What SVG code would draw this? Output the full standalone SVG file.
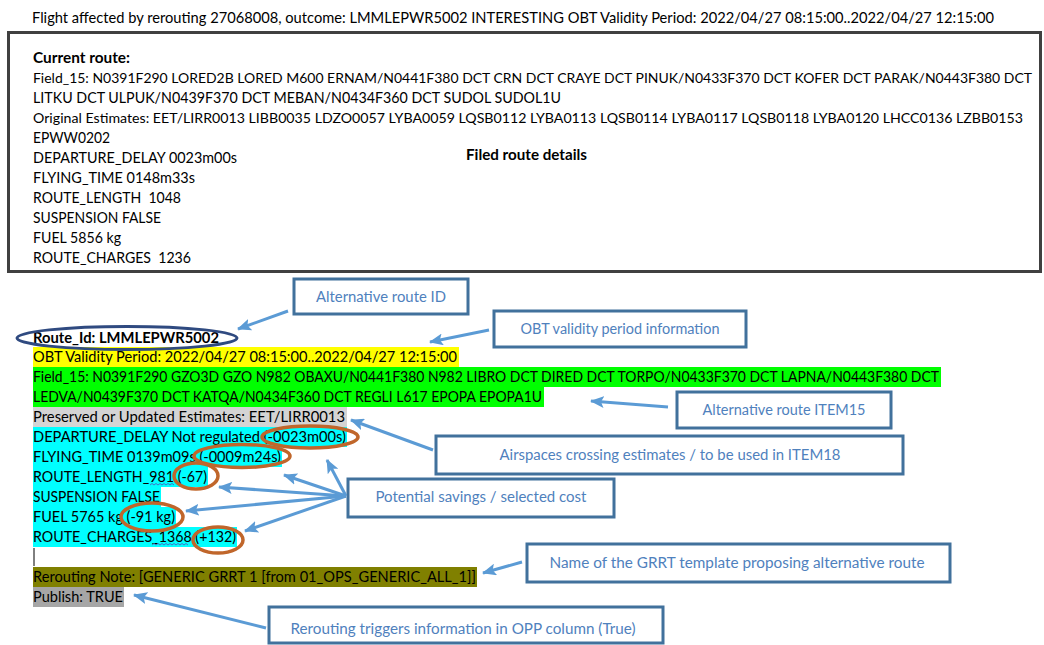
<svg xmlns="http://www.w3.org/2000/svg" width="1044" height="645" viewBox="0 0 1044 645">
<defs>
<style>
text{font-family:Lato,"Liberation Sans",Arial,sans-serif;font-size:15px;fill:#000}
.b{font-weight:bold}
.lg{font-size:14px}
.co rect{fill:#fff;stroke:#41719C;stroke-width:3}
.co text{fill:#4F81BD;text-anchor:middle;font-size:15.5px}
#connectors line{stroke:#5B9BD5;stroke-width:3;marker-end:url(#ah)}
.ov{fill:none;stroke:#C0662B;stroke-width:3.5}
.sq{fill:none;stroke:#4472C4;stroke-width:1}
</style>
<marker id="ah" markerUnits="userSpaceOnUse" markerWidth="16" markerHeight="12" refX="13" refY="6" orient="auto"><path d="M0,0 L14,6 L0,12 L3,6 Z" fill="#5B9BD5"/></marker>
</defs>
<rect width="1044" height="645" fill="#fff"/>
<text x="32" y="23" textLength="962" lengthAdjust="spacingAndGlyphs">Flight affected by rerouting 27068008, outcome: LMMLEPWR5002 INTERESTING OBT Validity Period: 2022/04/27 08:15:00..2022/04/27 12:15:00</text>

<g id="filed-route">
<rect x="8.5" y="32.5" width="1032" height="239" fill="#fff" stroke="#404040" stroke-width="3"/>
<text class="b" x="33" y="63" textLength="97" lengthAdjust="spacingAndGlyphs">Current route:</text>
<text class="lg" x="33" y="83" textLength="999" lengthAdjust="spacingAndGlyphs">Field_15: N0391F290 LORED2B LORED M600 ERNAM/N0441F380 DCT CRN DCT CRAYE DCT PINUK/N0433F370 DCT KOFER DCT PARAK/N0443F380 DCT</text>
<text x="33" y="103" textLength="528" lengthAdjust="spacingAndGlyphs">LITKU DCT ULPUK/N0439F370 DCT MEBAN/N0434F360 DCT SUDOL SUDOL1U</text>
<text class="lg" x="33" y="123" textLength="990" lengthAdjust="spacingAndGlyphs">Original Estimates: EET/LIRR0013 LIBB0035 LDZO0057 LYBA0059 LQSB0112 LYBA0113 LQSB0114 LYBA0117 LQSB0118 LYBA0120 LHCC0136 LZBB0153</text>
<text x="33" y="143" textLength="77" lengthAdjust="spacingAndGlyphs">EPWW0202</text>
<text x="33" y="163" textLength="204" lengthAdjust="spacingAndGlyphs">DEPARTURE_DELAY 0023m00s</text>
<text x="33" y="183" textLength="162" lengthAdjust="spacingAndGlyphs">FLYING_TIME 0148m33s</text>
<text x="33" y="203" textLength="148" lengthAdjust="spacingAndGlyphs" xml:space="preserve">ROUTE_LENGTH  1048</text>
<text x="33" y="223" textLength="128" lengthAdjust="spacingAndGlyphs">SUSPENSION FALSE</text>
<text x="33" y="243" textLength="88" lengthAdjust="spacingAndGlyphs">FUEL 5856 kg</text>
<text x="33" y="263" textLength="158" lengthAdjust="spacingAndGlyphs" xml:space="preserve">ROUTE_CHARGES  1236</text>
<text class="b" x="466" y="160" textLength="121" lengthAdjust="spacingAndGlyphs">Filed route details</text>
</g>

<g id="alternative-route">
<rect x="33" y="347" width="426" height="20" fill="#FFFF00"/>
<rect x="33" y="367" width="908" height="20" fill="#00FF00"/>
<rect x="33" y="387" width="511" height="20" fill="#00FF00"/>
<rect x="33" y="407" width="314" height="20" fill="#D4D4D4"/>
<rect x="33" y="427" width="314" height="20" fill="#00FFFF"/>
<rect x="33" y="447" width="249" height="20" fill="#00FFFF"/>
<rect x="33" y="467" width="175" height="20" fill="#00FFFF"/>
<rect x="33" y="487" width="128" height="20" fill="#00FFFF"/>
<rect x="33" y="507" width="143" height="20" fill="#00FFFF"/>
<rect x="33" y="527" width="204" height="20" fill="#00FFFF"/>
<rect x="33" y="567" width="444" height="20" fill="#808000"/>
<rect x="33" y="587" width="91" height="20" fill="#A6A6A6"/>
<text class="b" x="33" y="343" textLength="186" lengthAdjust="spacingAndGlyphs">Route_Id: LMMLEPWR5002</text>
<text x="33" y="362" textLength="424" lengthAdjust="spacingAndGlyphs">OBT Validity Period: 2022/04/27 08:15:00..2022/04/27 12:15:00</text>
<text x="33" y="382" textLength="906" lengthAdjust="spacingAndGlyphs">Field_15: N0391F290 GZO3D GZO N982 OBAXU/N0441F380 N982 LIBRO DCT DIRED DCT TORPO/N0433F370 DCT LAPNA/N0443F380 DCT</text>
<text x="33" y="402" textLength="509" lengthAdjust="spacingAndGlyphs">LEDVA/N0439F370 DCT KATQA/N0434F360 DCT REGLI L617 EPOPA EPOPA1U</text>
<text x="33" y="422" textLength="312" lengthAdjust="spacingAndGlyphs">Preserved or Updated Estimates: EET/LIRR0013</text>
<text x="33" y="442" textLength="313" lengthAdjust="spacingAndGlyphs">DEPARTURE_DELAY Not regulated (-0023m00s)</text>
<text x="33" y="462" textLength="248" lengthAdjust="spacingAndGlyphs">FLYING_TIME 0139m09s (-0009m24s)</text>
<text x="33" y="482" textLength="174" lengthAdjust="spacingAndGlyphs">ROUTE_LENGTH_981 (-67)</text>
<text x="33" y="502" textLength="127" lengthAdjust="spacingAndGlyphs">SUSPENSION FALSE</text>
<text x="33" y="522" textLength="142" lengthAdjust="spacingAndGlyphs">FUEL 5765 kg (-91 kg)</text>
<text x="33" y="542" textLength="203" lengthAdjust="spacingAndGlyphs">ROUTE_CHARGES_1368 (+132)</text>
<line x1="34" y1="548" x2="34" y2="566" stroke="#000" stroke-width="1"/>
<text x="33" y="582" textLength="443" lengthAdjust="spacingAndGlyphs">Rerouting Note: [GENERIC GRRT 1 [from 01_OPS_GENERIC_ALL_1]]</text>
<text x="33" y="602" textLength="90" lengthAdjust="spacingAndGlyphs">Publish: TRUE</text>
<path class="sq" d="M150,485 l2,-1.5 l2,1.5 l2,-1.5 l2,1.5 l2,-1.5 l2,1.5 l2,-1.5 l2,1.5 l2,-1.5 l2,1.5 l2,-1.5 l2,1.5"/>
<path class="sq" d="M152,545 l2,-1.5 l2,1.5 l2,-1.5 l2,1.5 l2,-1.5 l2,1.5 l2,-1.5 l2,1.5 l2,-1.5 l2,1.5 l2,-1.5 l2,1.5 l2,-1.5 l2,1.5 l2,-1.5 l2,1.5 l2,-1.5 l2,1.5"/>
<ellipse cx="127" cy="338" rx="110" ry="11.5" fill="none" stroke="#2F4A80" stroke-width="3"/>
<ellipse class="ov" cx="310" cy="437" rx="48" ry="11"/>
<ellipse class="ov" cx="242" cy="456" rx="48" ry="11.5"/>
<ellipse class="ov" cx="196" cy="476" rx="22" ry="13"/>
<ellipse class="ov" cx="152" cy="517" rx="31" ry="14"/>
<ellipse class="ov" cx="218" cy="540" rx="25" ry="13"/>
</g>

<g id="callout-route-id" class="co"><rect x="294" y="279" width="174" height="35"/><text x="381" y="302" textLength="130" lengthAdjust="spacingAndGlyphs">Alternative route ID</text></g>
<g id="callout-obt" class="co"><rect x="494" y="311" width="252" height="36"/><text x="620" y="334" textLength="199" lengthAdjust="spacingAndGlyphs">OBT validity period information</text></g>
<g id="callout-item15" class="co"><rect x="677" y="392" width="214" height="36"/><text x="784" y="415" textLength="163" lengthAdjust="spacingAndGlyphs">Alternative route ITEM15</text></g>
<g id="callout-airspaces" class="co"><rect x="436" y="436" width="467" height="38"/><text x="670" y="460" textLength="341" lengthAdjust="spacingAndGlyphs">Airspaces crossing estimates / to be used in ITEM18</text></g>
<g id="callout-savings" class="co"><rect x="348" y="479" width="266" height="38"/><text x="481" y="502" textLength="211" lengthAdjust="spacingAndGlyphs">Potential savings / selected cost</text></g>
<g id="callout-grrt" class="co"><rect x="527" y="544" width="423" height="38"/><text x="737" y="568" textLength="375" lengthAdjust="spacingAndGlyphs">Name of the GRRT template proposing alternative route</text></g>
<g id="callout-triggers" class="co"><rect x="269" y="607" width="394" height="36"/><text x="463" y="634" textLength="345" lengthAdjust="spacingAndGlyphs">Rerouting triggers information in OPP column (True)</text></g>

<g id="connectors">
<line x1="288" y1="311" x2="238" y2="329"/>
<line x1="489" y1="330" x2="430" y2="342"/>
<line x1="668" y1="407" x2="591" y2="401"/>
<line x1="433" y1="450" x2="351" y2="420"/>
<line x1="346" y1="496" x2="327" y2="460"/>
<line x1="346" y1="496" x2="284" y2="475"/>
<line x1="346" y1="496" x2="219" y2="487"/>
<line x1="346" y1="496" x2="186" y2="511"/>
<line x1="346" y1="496" x2="245" y2="531"/>
<line x1="522" y1="562" x2="483" y2="573"/>
<line x1="266" y1="628" x2="134" y2="595"/>
</g>
</svg>
